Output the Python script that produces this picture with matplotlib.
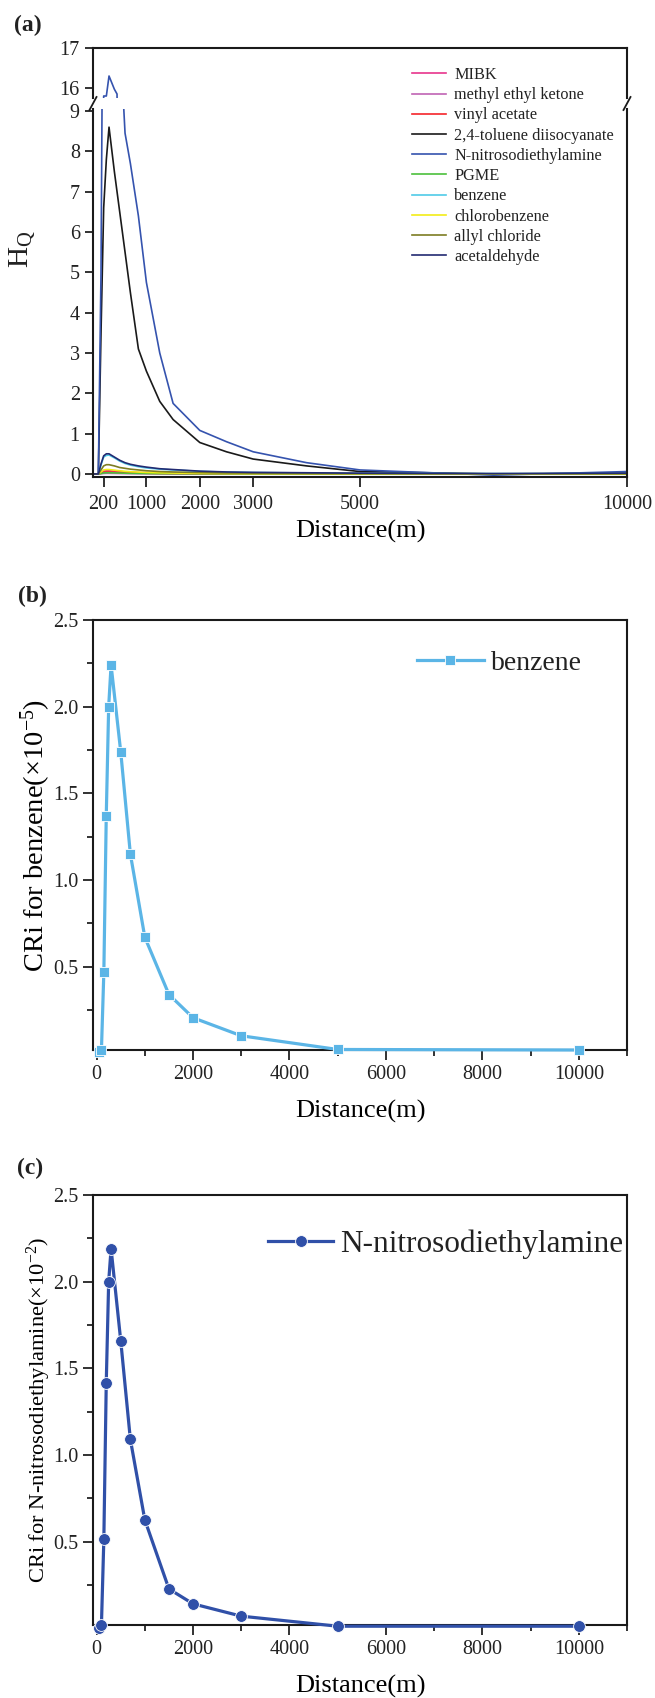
import matplotlib
matplotlib.use("Agg")
import matplotlib.pyplot as plt
from matplotlib.lines import Line2D
from matplotlib.ticker import MultipleLocator, FixedLocator, FormatStrFormatter

plt.rcParams['font.family'] = ['Liberation Serif', 'DejaVu Serif']
plt.rcParams['mathtext.fontset'] = 'custom'
plt.rcParams['mathtext.rm'] = 'Liberation Serif'
plt.rcParams['mathtext.it'] = 'Liberation Serif:italic'
plt.rcParams['text.color'] = '#222222'
plt.rcParams['xtick.color'] = '#222222'
plt.rcParams['ytick.color'] = '#222222'

# ---------------- data: panel (a) hazard quotient ----------------
hq_distance = [0, 100, 150, 200, 250, 300, 400, 450, 500, 600, 700, 850, 1000,
               1250, 1500, 2000, 2500, 3000, 4000, 5000, 7500, 10000]
hq_mibk = [0, 0, 0.03, 0.07, 0.08, 0.08, 0.07, 0.065, 0.06, 0.05, 0.045, 0.035, 0.03,
           0.022, 0.018, 0.012, 0.009, 0.007, 0.005, 0.003, 0.002, 0.002]
hq_mek = [0, 0, 0.005, 0.012, 0.015, 0.015, 0.013, 0.012, 0.011, 0.009, 0.008, 0.006, 0.005,
          0.004, 0.003, 0.002, 0.002, 0.001, 0.001, 0.001, 0.0, 0.0]
hq_vinyl = [0, 0, 0.02, 0.045, 0.05, 0.05, 0.044, 0.04, 0.037, 0.031, 0.027, 0.022, 0.018,
            0.014, 0.011, 0.008, 0.006, 0.005, 0.003, 0.002, 0.001, 0.001]
hq_tdi = [0, 0, 3.5, 6.6, 7.8, 8.6, 7.5, 7.0, 6.5, 5.5, 4.5, 3.1, 2.55,
          1.8, 1.35, 0.78, 0.55, 0.37, 0.2, 0.06, 0.0, 0.02]
hq_ndea = [0, 0, 5.0, 15.8, 15.8, 16.3, 15.97, 15.85, 11.0, 8.45, 7.7, 6.4, 4.75,
           3.0, 1.75, 1.08, 0.8, 0.55, 0.28, 0.1, -0.03, 0.06]
hq_pgme = [0, 0, 0.01, 0.025, 0.03, 0.03, 0.027, 0.025, 0.023, 0.019, 0.016, 0.013, 0.011,
           0.008, 0.007, 0.005, 0.004, 0.003, 0.002, 0.001, 0.001, 0.001]
hq_benzene = [0, 0, 0.22, 0.42, 0.46, 0.47, 0.4, 0.36, 0.32, 0.26, 0.22, 0.18, 0.15,
              0.12, 0.1, 0.065, 0.045, 0.035, 0.025, 0.015, 0.01, 0.01]
hq_chloro = [0, 0, 0.05, 0.1, 0.11, 0.11, 0.095, 0.087, 0.08, 0.066, 0.057, 0.046, 0.038,
             0.029, 0.023, 0.015, 0.011, 0.009, 0.006, 0.004, 0.002, 0.002]
hq_allyl = [0, 0, 0.1, 0.2, 0.23, 0.23, 0.2, 0.18, 0.16, 0.14, 0.12, 0.1, 0.08,
            0.06, 0.05, 0.035, 0.025, 0.02, 0.012, 0.008, 0.005, 0.004]
hq_acet = [0, 0, 0.25, 0.45, 0.5, 0.5, 0.42, 0.38, 0.34, 0.28, 0.24, 0.2, 0.17,
           0.13, 0.11, 0.07, 0.05, 0.04, 0.03, 0.02, 0.01, 0.02]

hq_names = ['MIBK', 'methyl ethyl ketone', 'vinyl acetate', '2,4-toluene diisocyanate',
            'N-nitrosodiethylamine', 'PGME', 'benzene', 'chlorobenzene',
            'allyl chloride', 'acetaldehyde']
hq_series = [hq_mibk, hq_mek, hq_vinyl, hq_tdi, hq_ndea, hq_pgme, hq_benzene,
             hq_chloro, hq_allyl, hq_acet]
hq_colors = ['#e8358c', '#c064b4', '#f5242a', '#1a1a1a', '#3553ae', '#4cc03c',
             '#4fcbe8', '#f2ec18', '#7d7d23', '#222a72']
hq_xticks = [200, 1000, 2000, 3000, 5000, 10000]

# ---------------- data: panels (b) and (c) carcinogenic risk ----------------
cr_distance = [50, 100, 150, 200, 250, 300, 500, 700, 1000, 1500, 2000, 3000, 5000, 10000]
cr_benzene = [0.01, 0.02, 0.47, 1.37, 2.0, 2.24, 1.74, 1.15, 0.67, 0.34, 0.206, 0.102, 0.023, 0.02]
cr_ndea = [0.004, 0.02, 0.516, 1.418, 2.0, 2.19, 1.66, 1.09, 0.626, 0.228, 0.142, 0.071, 0.013, 0.013]

W, H = 655, 1698
fig = plt.figure(figsize=(W / 100, H / 100), dpi=100)


def rect(left, top, right, bottom):
    return [left / W, 1 - bottom / H, (right - left) / W, (bottom - top) / H]


def fx(x):
    return x / W


def fy(y):
    return 1 - y / H


TICK_FS = 14.5
LW_SPINE = 1.5

# ---------------- panel (a) ----------------
ax_top = fig.add_axes(rect(93, 48, 627, 98))
ax_bot = fig.add_axes(rect(93, 109, 627, 477))
handles = []
for name, vals, col in zip(hq_names, hq_series, hq_colors):
    ax_top.plot(hq_distance, vals, color=col, lw=1.2)
    ln, = ax_bot.plot(hq_distance, vals, color=col, lw=1.2, label=name)
    handles.append(ln)

ax_top.set_ylim(15.75, 17)
ax_bot.set_ylim(-0.075, 9.05)
for a in (ax_top, ax_bot):
    a.set_xlim(0, 10000)
    for s in a.spines.values():
        s.set_linewidth(LW_SPINE)
        s.set_color('#1a1a1a')
    a.tick_params(direction='out', length=6, width=1.3, labelsize=TICK_FS)

ax_top.spines['bottom'].set_visible(False)
ax_bot.spines['top'].set_visible(False)
ax_top.yaxis.set_major_locator(FixedLocator([16, 17]))
ax_top.tick_params(axis='x', bottom=False, labelbottom=False)
ax_top.tick_params(axis='y', right=False)
ax_bot.yaxis.set_major_locator(FixedLocator(list(range(0, 10))))
ax_bot.xaxis.set_major_locator(FixedLocator(hq_xticks))
ax_bot.set_xticklabels([str(t) for t in hq_xticks])
ax_bot.tick_params(axis='x', length=7, pad=6)
ax_bot.set_xlabel('Distance(m)', fontsize=19, labelpad=4)

# break marks
for xc in (93, 627):
    fig.add_artist(Line2D([fx(xc - 3.5), fx(xc + 3.5)], [fy(110), fy(97)],
                          color='#1a1a1a', lw=1.3))

fig.text(fx(22), fy(249), r'$\mathrm{H_Q}$', rotation=90, fontsize=21,
         ha='center', va='center')

fig.legend(handles=handles, loc='upper left', bbox_to_anchor=(fx(412), fy(67)),
           frameon=False, fontsize=11.7, handlelength=2.1, handletextpad=0.5,
           labelspacing=0.26, borderpad=0, borderaxespad=0)

fig.text(fx(28), fy(25), '(a)', fontsize=17, fontweight='bold', ha='center', va='center')


# ---------------- panels (b), (c) ----------------
def cr_panel(top, bottom, y, color, marker, ms, label, ylabel, ylabel_fs, leg_xy, leg_fs,
             hlen, hpad):
    ax = fig.add_axes(rect(93, top, 627, bottom))
    ax.plot(cr_distance, y, color=color, lw=2.3, marker=marker, ms=ms,
            mec='white', mew=0.6, label=label, clip_on=False, zorder=3)
    ax.set_xlim(-75, 11000)
    ax.set_ylim(0.02, 2.5)
    ax.xaxis.set_major_locator(MultipleLocator(2000))
    ax.xaxis.set_minor_locator(MultipleLocator(1000))
    ax.yaxis.set_major_locator(FixedLocator([0.5, 1.0, 1.5, 2.0, 2.5]))
    ax.yaxis.set_minor_locator(FixedLocator([0.25, 0.75, 1.25, 1.75, 2.25]))
    ax.yaxis.set_major_formatter(FormatStrFormatter('%.1f'))
    for s in ax.spines.values():
        s.set_linewidth(LW_SPINE)
        s.set_color('#1a1a1a')
    ax.tick_params(which='major', direction='out', length=7, width=1.3, labelsize=TICK_FS)
    ax.tick_params(which='minor', direction='out', length=4, width=1.3)
    ax.set_xlabel('Distance(m)', fontsize=19, labelpad=12)
    ax.set_ylabel(ylabel, fontsize=ylabel_fs, labelpad=0)
    ax.legend(loc='center left', bbox_to_anchor=leg_xy, frameon=False, fontsize=leg_fs,
              handlelength=hlen, handletextpad=hpad, borderpad=0, borderaxespad=0)
    return ax


cr_panel(620, 1050, cr_benzene, '#5bb5e6', 's', 7.5, 'benzene',
         'CRi for benzene(×10$^{\\mathrm{-5}}$)', 20.5,
         ((417 - 93) / 534, (1050 - 663) / 430), 20, 2.4, 0.25)
fig.text(fx(32), fy(596), '(b)', fontsize=17, fontweight='bold', ha='center', va='center')

cr_panel(1195, 1625, cr_ndea, '#3050a8', 'o', 8.5, 'N-nitrosodiethylamine',
         'CRi for N-nitrosodiethylamine(×10$^{\\mathrm{-2}}$)', 16.2,
         ((268 - 93) / 534, (1625 - 1244) / 430), 22.5, 2.08, 0.22)
fig.text(fx(30), fy(1168), '(c)', fontsize=17, fontweight='bold', ha='center', va='center')

fig.savefig('out.png', dpi=100)
